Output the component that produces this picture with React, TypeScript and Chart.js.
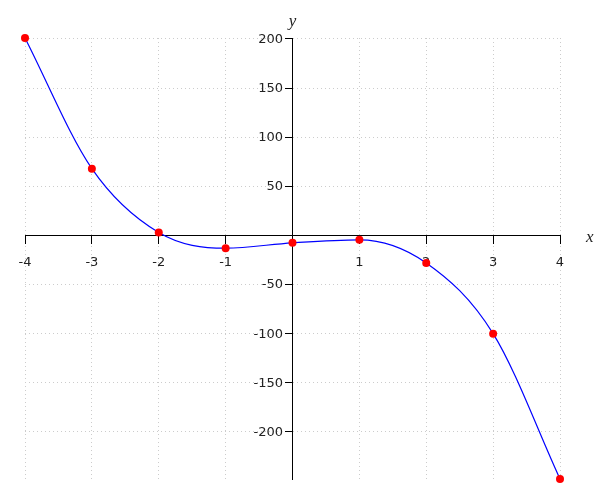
import React, { useEffect, useRef } from "react";
import { Chart, registerables } from "chart.js";

Chart.register(...registerables);

const xValues = [-4, -3, -2, -1, 0, 1, 2, 3, 4];
const yValues = [201, 68, 3, -13, -7.5, -4.5, -28, -100, -248];
const yTickValues = [-200, -150, -100, -50, 50, 100, 150, 200];
const xTickValues = [-4, -3, -2, -1, 1, 2, 3, 4];

const TICK_FONT = "13px 'DejaVu Sans', sans-serif";

const axisLabels = {
  id: "axisLabels",
  afterDraw(chart: any) {
    const { ctx, chartArea, scales } = chart;
    const x0 = scales.x.getPixelForValue(0);
    const y0 = scales.y.getPixelForValue(0);
    ctx.save();
    ctx.fillStyle = "#222";
    ctx.font = "italic 17px 'Liberation Serif', 'DejaVu Serif', serif";
    ctx.textAlign = "center";
    ctx.textBaseline = "alphabetic";
    ctx.fillText("y", x0, chartArea.top - 12);
    ctx.textAlign = "left";
    ctx.textBaseline = "middle";
    ctx.fillText("x", chartArea.right + 26, y0 + 2);
    ctx.restore();
  },
};

const tickLabels = {
  id: "tickLabels",
  afterDraw(chart: any) {},
  beforeDatasetsDraw(chart: any) {
    const { ctx, scales } = chart;
    const x0 = scales.x.getPixelForValue(0);
    const y0 = scales.y.getPixelForValue(0);
    ctx.save();
    ctx.fillStyle = "#222";
    ctx.font = TICK_FONT;
    ctx.textBaseline = "middle";
    ctx.textAlign = "center";
    for (const v of xTickValues) {
      ctx.fillText(String(v), scales.x.getPixelForValue(v), y0 + 27.5);
    }
    ctx.textAlign = "right";
    for (const v of yTickValues) {
      ctx.fillText(String(v), x0 - 9.5, scales.y.getPixelForValue(v) + 0.5);
    }
    ctx.restore();
  },
};

export default function App() {
  const ref = useRef<HTMLCanvasElement>(null);
  useEffect(() => {
    if (!ref.current) return;
    const data = xValues.map((x, i) => ({ x, y: yValues[i] }));
    const chart = new Chart(ref.current, {
      type: "line",
      data: {
        datasets: [
          {
            data,
            borderColor: "#0000ff",
            borderWidth: 1.2,
            cubicInterpolationMode: "monotone",
            pointRadius: 4,
            pointHoverRadius: 4,
            pointBackgroundColor: "#ff0000",
            pointBorderWidth: 0,
            clip: false as any,
          },
        ],
      },
      options: {
        responsive: false,
        animation: false,
        layout: { padding: { left: 25, right: 40, top: 38, bottom: 21 } },
        plugins: { legend: { display: false }, tooltip: { enabled: false } },
        scales: {
          x: {
            type: "linear",
            min: Math.min(...xValues),
            max: Math.max(...xValues),
            position: { y: 0 } as any,
            afterBuildTicks: (s: any) => {
              s.ticks = xTickValues.map((v) => ({ value: v }));
            },
            grid: {
              color: "#cccccc",
              lineWidth: 1,
              tickColor: "#000",
              tickLength: 8,
              tickWidth: 1,
            },
            border: { display: true, color: "#000", width: 1, dash: [1, 3] },
            ticks: { display: false },
          },
          y: {
            type: "linear",
            min: Math.min(...yValues),
            max: Math.max(...yValues),
            position: { x: 0 } as any,
            afterBuildTicks: (s: any) => {
              s.ticks = yTickValues.map((v) => ({ value: v }));
            },
            grid: {
              color: "#cccccc",
              lineWidth: 1,
              tickColor: "#000",
              tickLength: 7,
              tickWidth: 1,
            },
            border: { display: true, color: "#000", width: 1, dash: [1, 3] },
            ticks: { display: false },
          },
        },
      },
      plugins: [tickLabels, axisLabels],
    });
    return () => chart.destroy();
  }, []);
  return (
    <div style={{ position: "fixed", left: 0, top: 0, width: 600, height: 500, background: "#fff" }}>
      <canvas ref={ref} width={600} height={500} />
    </div>
  );
}
